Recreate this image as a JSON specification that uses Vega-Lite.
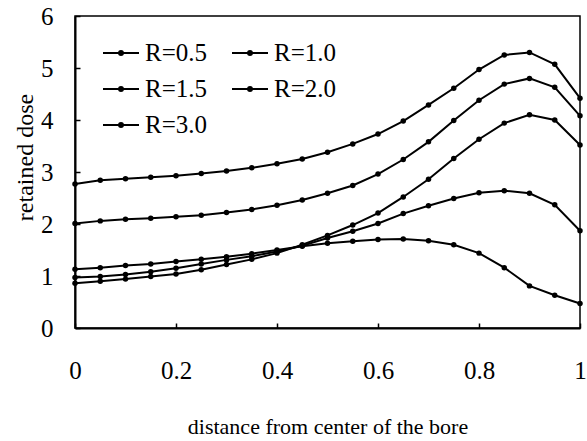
{
  "$schema": "https://vega.github.io/schema/vega-lite/v6.json",
  "autosize": "none",
  "width": 505,
  "height": 312,
  "padding": {"left": 75, "top": 16, "right": 7, "bottom": 113},
  "background": "white",
  "config": {
    "view": {"stroke": "#000", "strokeWidth": 1.5},
    "axis": {
      "domainColor": "#000", "domainWidth": 2, "tickColor": "#000", "tickWidth": 1.5,
      "grid": false, "labelFont": "Liberation Serif", "labelFontSize": 25, "labelColor": "#000",
      "titleFont": "Liberation Serif", "titleFontWeight": "normal", "titleColor": "#000"
    }
  },
  "data": {"values": [
    {"R":"R=0.5","d":0,"v":1.13},{"R":"R=0.5","d":0.05,"v":1.16},{"R":"R=0.5","d":0.1,"v":1.20},{"R":"R=0.5","d":0.15,"v":1.23},{"R":"R=0.5","d":0.2,"v":1.28},{"R":"R=0.5","d":0.25,"v":1.32},{"R":"R=0.5","d":0.3,"v":1.37},{"R":"R=0.5","d":0.35,"v":1.43},{"R":"R=0.5","d":0.4,"v":1.50},{"R":"R=0.5","d":0.45,"v":1.57},{"R":"R=0.5","d":0.5,"v":1.63},{"R":"R=0.5","d":0.55,"v":1.67},{"R":"R=0.5","d":0.6,"v":1.70},{"R":"R=0.5","d":0.65,"v":1.71},{"R":"R=0.5","d":0.7,"v":1.68},{"R":"R=0.5","d":0.75,"v":1.60},{"R":"R=0.5","d":0.8,"v":1.44},{"R":"R=0.5","d":0.85,"v":1.16},{"R":"R=0.5","d":0.9,"v":0.81},{"R":"R=0.5","d":0.95,"v":0.63},{"R":"R=0.5","d":1,"v":0.47},
    {"R":"R=1.0","d":0,"v":0.97},{"R":"R=1.0","d":0.05,"v":0.99},{"R":"R=1.0","d":0.1,"v":1.03},{"R":"R=1.0","d":0.15,"v":1.08},{"R":"R=1.0","d":0.2,"v":1.15},{"R":"R=1.0","d":0.25,"v":1.23},{"R":"R=1.0","d":0.3,"v":1.31},{"R":"R=1.0","d":0.35,"v":1.38},{"R":"R=1.0","d":0.4,"v":1.47},{"R":"R=1.0","d":0.45,"v":1.58},{"R":"R=1.0","d":0.5,"v":1.73},{"R":"R=1.0","d":0.55,"v":1.86},{"R":"R=1.0","d":0.6,"v":2.01},{"R":"R=1.0","d":0.65,"v":2.20},{"R":"R=1.0","d":0.7,"v":2.35},{"R":"R=1.0","d":0.75,"v":2.49},{"R":"R=1.0","d":0.8,"v":2.60},{"R":"R=1.0","d":0.85,"v":2.64},{"R":"R=1.0","d":0.9,"v":2.59},{"R":"R=1.0","d":0.95,"v":2.37},{"R":"R=1.0","d":1,"v":1.87},
    {"R":"R=1.5","d":0,"v":0.86},{"R":"R=1.5","d":0.05,"v":0.90},{"R":"R=1.5","d":0.1,"v":0.94},{"R":"R=1.5","d":0.15,"v":0.99},{"R":"R=1.5","d":0.2,"v":1.04},{"R":"R=1.5","d":0.25,"v":1.12},{"R":"R=1.5","d":0.3,"v":1.22},{"R":"R=1.5","d":0.35,"v":1.32},{"R":"R=1.5","d":0.4,"v":1.44},{"R":"R=1.5","d":0.45,"v":1.60},{"R":"R=1.5","d":0.5,"v":1.78},{"R":"R=1.5","d":0.55,"v":1.98},{"R":"R=1.5","d":0.6,"v":2.21},{"R":"R=1.5","d":0.65,"v":2.52},{"R":"R=1.5","d":0.7,"v":2.86},{"R":"R=1.5","d":0.75,"v":3.26},{"R":"R=1.5","d":0.8,"v":3.63},{"R":"R=1.5","d":0.85,"v":3.94},{"R":"R=1.5","d":0.9,"v":4.10},{"R":"R=1.5","d":0.95,"v":4.00},{"R":"R=1.5","d":1,"v":3.52},
    {"R":"R=2.0","d":0,"v":2.01},{"R":"R=2.0","d":0.05,"v":2.06},{"R":"R=2.0","d":0.1,"v":2.09},{"R":"R=2.0","d":0.15,"v":2.11},{"R":"R=2.0","d":0.2,"v":2.14},{"R":"R=2.0","d":0.25,"v":2.17},{"R":"R=2.0","d":0.3,"v":2.22},{"R":"R=2.0","d":0.35,"v":2.28},{"R":"R=2.0","d":0.4,"v":2.36},{"R":"R=2.0","d":0.45,"v":2.46},{"R":"R=2.0","d":0.5,"v":2.59},{"R":"R=2.0","d":0.55,"v":2.74},{"R":"R=2.0","d":0.6,"v":2.96},{"R":"R=2.0","d":0.65,"v":3.24},{"R":"R=2.0","d":0.7,"v":3.58},{"R":"R=2.0","d":0.75,"v":3.99},{"R":"R=2.0","d":0.8,"v":4.38},{"R":"R=2.0","d":0.85,"v":4.69},{"R":"R=2.0","d":0.9,"v":4.80},{"R":"R=2.0","d":0.95,"v":4.63},{"R":"R=2.0","d":1,"v":4.08},
    {"R":"R=3.0","d":0,"v":2.77},{"R":"R=3.0","d":0.05,"v":2.84},{"R":"R=3.0","d":0.1,"v":2.87},{"R":"R=3.0","d":0.15,"v":2.90},{"R":"R=3.0","d":0.2,"v":2.93},{"R":"R=3.0","d":0.25,"v":2.97},{"R":"R=3.0","d":0.3,"v":3.02},{"R":"R=3.0","d":0.35,"v":3.08},{"R":"R=3.0","d":0.4,"v":3.16},{"R":"R=3.0","d":0.45,"v":3.25},{"R":"R=3.0","d":0.5,"v":3.38},{"R":"R=3.0","d":0.55,"v":3.54},{"R":"R=3.0","d":0.6,"v":3.73},{"R":"R=3.0","d":0.65,"v":3.98},{"R":"R=3.0","d":0.7,"v":4.29},{"R":"R=3.0","d":0.75,"v":4.61},{"R":"R=3.0","d":0.8,"v":4.97},{"R":"R=3.0","d":0.85,"v":5.25},{"R":"R=3.0","d":0.9,"v":5.30},{"R":"R=3.0","d":0.95,"v":5.07},{"R":"R=3.0","d":1,"v":4.42}
  ]},
  "mark": {"type": "line", "strokeWidth": 2, "point": {"filled": true, "size": 30}},
  "encoding": {
    "x": {
      "field": "d", "type": "quantitative",
      "scale": {"domain": [0, 1], "nice": false},
      "axis": {
        "values": [0, 0.2, 0.4, 0.6, 0.8, 1], "format": "~g", "labelFlush": false,
        "tickSize": -5, "labelPadding": 55, "labelBaseline": "alphabetic",
        "title": "distance from center of the bore", "titleFontSize": 22,
        "titleY": 105, "titleBaseline": "alphabetic"
      }
    },
    "y": {
      "field": "v", "type": "quantitative",
      "scale": {"domain": [0, 6], "nice": false},
      "axis": {
        "values": [0, 1, 2, 3, 4, 5, 6], "tickSize": -5, "labelPadding": 27, "labelFlush": false,
        "title": "retained dose", "titleFontSize": 24,
        "titleX": -43, "titleY": 141, "titleBaseline": "alphabetic"
      }
    },
    "color": {
      "field": "R", "type": "nominal",
      "scale": {"domain": ["R=0.5", "R=1.5", "R=3.0", "R=1.0", "R=2.0"], "range": ["#000", "#000", "#000", "#000", "#000"]},
      "legend": {
        "title": null, "orient": "none", "legendX": 27, "legendY": 18, "columns": 2,
        "padding": 0, "columnPadding": 20, "rowPadding": 4,
        "symbolType": "M-1,0H1M-0.11,0A0.11,0.11,0,1,1,0.11,0A0.11,0.11,0,1,1,-0.11,0Z",
        "symbolSize": 1296, "symbolStrokeWidth": 2, "symbolStrokeColor": "#000", "symbolFillColor": "#000",
        "labelFont": "Liberation Serif", "labelFontSize": 25, "labelColor": "#000", "labelOffset": 5,
        "encode": {"symbols": {"update": {"fill": {"value": "#000"}, "stroke": {"value": "#000"}, "opacity": {"value": 1}}}}
      }
    }
  }
}
